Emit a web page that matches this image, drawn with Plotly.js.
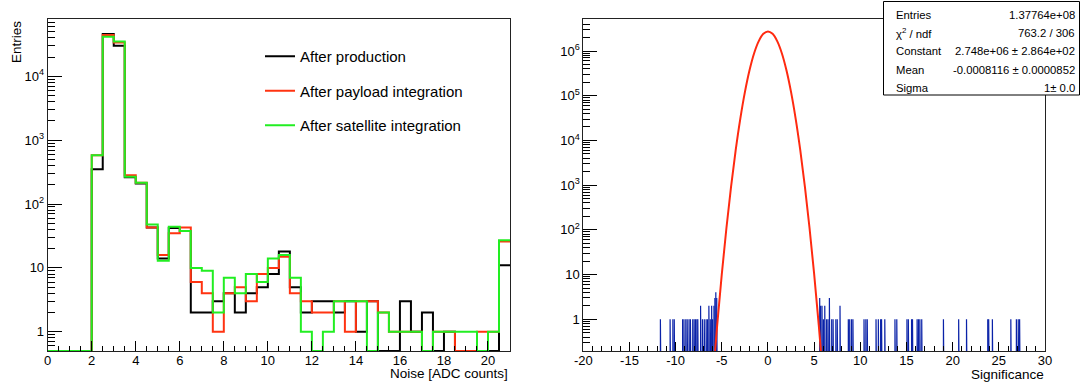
<!DOCTYPE html>
<html>
<head>
<meta charset="utf-8">
<script src="https://cdn.plot.ly/plotly-3.0.1.min.js"></script>
<style>html,body{margin:0;padding:0;background:#fff;}#chart{width:1083px;height:385px;}</style>
</head>
<body>
<div id="chart"></div>
<script>
// ---------- Left panel: noise histograms (bin lower edges, width 0.5) ----------
const noiseBinLow = [0,0.5,1,1.5,2,2.5,3,3.5,4,4.5,5,5.5,6,6.5,7,7.5,8,8.5,9,9.5,10,10.5,11,11.5,12,12.5,13,13.5,14,14.5,15,15.5,16,16.5,17,17.5,18,18.5,19,19.5,20,20.5];
const noiseBinWidth = 0.5;
const afterProduction = [0,0,0,0,350,46000,30000,262,210,43,14,42,38,2,2,3,4,2,4,5,8,18,5,2,3,3,2,3,1,3,0,0,3,1,2,0,1,0,0,0,0,11];
const afterPayload    = [0,0,0,0,580,44300,33900,283,216,43,16,35,43,6,4,1,4,5,3,8,10,15,4,3,2,2,3,1,3,3,2,1,1,1,0,1,1,0,0,1,1,26];
const afterSatellite  = [0,0,0,0,580,41600,35100,268,216,48,13,44,38,10,9,2,7,4,8,6,14,16,7,1,0,1,3,3,3,0,2,1,1,1,0,1,1,1,1,0,1,27];
const seriesNames = ["After production","After payload integration","After satellite integration"];

// ---------- Right panel: significance ----------
// outlier bins (bin centres, width 0.05) and their counts
const sigBinWidth = 0.05;
const sigOutlierX = [-11.625,-10.575,-10.275,-10.125,-9.225,-9.075,-8.875,-8.725,-8.525,-8.375,-8.125,-7.975,-7.825,-7.675,-7.575,-7.275,-7.075,-6.875,-6.675,-6.525,-6.375,-6.225,-6.075,-5.975,-5.825,-5.725,-5.625,-5.525,
  5.625,5.725,5.875,6.025,6.175,6.375,6.525,6.675,6.925,7.075,7.375,7.525,7.825,8.725,8.875,9.075,9.225,10.425,10.625,10.775,11.725,11.975,12.225,12.325,12.675,13.775,13.975,15.075,15.225,15.575,15.675,16.175,16.325,16.475,16.675,19.025,20.675,21.525,23.825,23.925,24.325,26.325,26.925,27.125,27.275];
const sigOutlierN = [1,1,1,1,1,1,1,1,1,1,1,1,1,1,1,2,1,1,1,1,2,1,2,1,2,3,4,3,
  3,2,2,1,2,1,1,3,1,1,1,1,2,1,1,1,1,1,1,1,1,1,1,1,1,1,1,1,1,1,1,1,1,1,1,1,1,1,1,1,1,1,1,1,1];
// Gaussian fit curve values
const fitX = [-6,-5.5,-5,-4.5,-4,-3.5,-3,-2.5,-2,-1.5,-1,-0.5,0,0.5,1,1.5,2,2.5,3,3.5,4,4.5,5,5.5,6];
const fitY = [0.042,0.74,10.3,110,920,6000,30500,120500,372000,895000,1667000,2425000,2748000,2425000,1667000,895000,372000,120500,30500,6000,920,110,10.3,0.74,0.042];
const statLabels = ["Entries","\u03c7<sup>2</sup> / ndf","Constant","Mean","Sigma"];
const statValues = ["1.37764e+08","763.2 / 306","2.748e+06 \u00b1 2.864e+02","-0.0008116 \u00b1 0.0000852","1\u00b1 0.0"];

// ---------- build ----------
const W = 1083, H = 385;
const px = v => v / W, py = v => 1 - v / H;
const FONT = "Liberation Sans, Arial, Helvetica, sans-serif";
const leftYMin = 0.5;

function stepTrace(vals, name, color, group) {
  const x = noiseBinLow.concat([noiseBinLow[noiseBinLow.length-1] + noiseBinWidth]);
  const yv = vals.map(v => v > 0 ? v : leftYMin);
  const y = yv.concat([yv[yv.length-1]]);
  return {type:"scatter", mode:"lines", x:x, y:y, name:name, legendgroup:group,
          line:{shape:"hv", color:color, width:2}, xaxis:"x", yaxis:"y", hoverinfo:"skip"};
}

const floorR = 0.05;
const sx = [], sy = [];
sigOutlierX.forEach((c,i) => {
  const a = c - sigBinWidth/2, b = c + sigBinWidth/2, n = sigOutlierN[i];
  sx.push(a,a,b,b,null); sy.push(floorR,n,n,floorR,null);
});

const traces = [
  stepTrace(afterProduction, seriesNames[0], "#000000", "g1"),
  stepTrace(afterPayload, seriesNames[1], "#ff3311", "g2"),
  stepTrace(afterSatellite, seriesNames[2], "#22ee22", "g3"),
  {type:"scatter", mode:"lines", x:sx, y:sy, xaxis:"x2", yaxis:"y2", showlegend:false,
   line:{color:"#0a22a8", width:1.2}, hoverinfo:"skip"},
  {type:"scatter", mode:"lines", x:fitX, y:fitY, xaxis:"x2", yaxis:"y2", showlegend:false,
   line:{color:"#ff2a10", width:2, shape:"spline"}, hoverinfo:"skip"}
];

function minorLog(lo, hi) {
  const out = [];
  for (let e = lo; e <= hi; e++) for (let d = 2; d <= 9; d++) out.push(d * Math.pow(10, e));
  return out;
}
function decLabels(n) {
  const t = [];
  for (let e = 0; e <= n; e++) t.push(e === 0 ? "1" : e === 1 ? "10" : "10<sup>" + e + "</sup>");
  return t;
}
function decVals(n) { const t = []; for (let e = 0; e <= n; e++) t.push(Math.pow(10, e)); return t; }

const axCommon = {showline:true, mirror:true, linecolor:"#222", linewidth:1, showgrid:false, zeroline:false,
  ticks:"inside", tickcolor:"#000", tickwidth:1, tickfont:{size:13, family:FONT, color:"#000"}};

const yDom = [1 - 351/H, 1 - 19.3/H];
const rightTicks = [-20,-15,-10,-5,0,5,10,15,20,25,30];

const layout = {
  width:W, height:H, margin:{l:0,r:0,t:0,b:0}, paper_bgcolor:"#fff", plot_bgcolor:"#fff",
  font:{family:FONT, color:"#000"},
  showlegend:true,
  legend:{x:px(260), y:py(40), xanchor:"left", yanchor:"top", bgcolor:"rgba(0,0,0,0)", borderwidth:0,
          font:{size:15, family:FONT}, tracegroupgap:12},
  xaxis:Object.assign({}, axCommon, {domain:[px(47.7), px(510)], range:[0,21], anchor:"y",
        tickmode:"array", tickvals:[0,2,4,6,8,10,12,14,16,18,20], ticklen:10, ticklabelstandoff:-3,
        minor:{ticks:"inside", ticklen:5, dtick:0.5, tick0:0, tickcolor:"#000", showgrid:false}}),
  yaxis:Object.assign({}, axCommon, {domain:yDom, type:"log", range:[Math.log10(0.5), 4.893], anchor:"x",
        tickmode:"array", tickvals:decVals(4), ticktext:decLabels(4), ticklen:14,
        minor:{ticks:"inside", ticklen:7, tickmode:"array", tickvals:[0.6,0.7,0.8,0.9].concat(minorLog(0,4)), tickcolor:"#000", showgrid:false}}),
  xaxis2:Object.assign({}, axCommon, {domain:[px(583.3), px(1045)], range:[-20,30], anchor:"y2",
        tickmode:"array", tickvals:rightTicks, ticktext:rightTicks.map(String), ticklen:9, ticklabelstandoff:-3,
        minor:{ticks:"inside", ticklen:5, dtick:1, tick0:0, tickcolor:"#000", showgrid:false}}),
  yaxis2:Object.assign({}, axCommon, {domain:yDom, type:"log", range:[-0.71, 6.71], anchor:"x2",
        tickmode:"array", tickvals:decVals(6), ticktext:decLabels(6), ticklen:14,
        minor:{ticks:"inside", ticklen:7, tickmode:"array", tickvals:[0.2,0.3,0.4,0.5,0.6,0.7,0.8,0.9].concat(minorLog(0,6)), tickcolor:"#000", showgrid:false}}),
  shapes:[
    {type:"rect", xref:"paper", yref:"paper", x0:px(883.5), x1:px(1079.5), y0:py(95), y1:py(1.5),
     line:{color:"#000", width:1}, fillcolor:"#fff", layer:"above"}
  ],
  annotations:[]
};

const ann = layout.annotations;
ann.push({xref:"paper", yref:"paper", x:px(509.5), y:py(373.5), xanchor:"right", yanchor:"middle",
  text:"Noise [ADC counts]", showarrow:false, font:{size:13.5, family:FONT}});
ann.push({xref:"paper", yref:"paper", x:px(1045.5), y:py(374.5), xanchor:"right", yanchor:"middle",
  text:"Significance", showarrow:false, font:{size:13.5, family:FONT}});
ann.push({xref:"paper", yref:"paper", x:px(16.5), y:py(19.5), xanchor:"center", yanchor:"top", textangle:-90,
  text:"Entries", showarrow:false, font:{size:13.5, family:FONT}});
const rowY = [14.8, 33.1, 51.4, 69.7, 88];
statLabels.forEach((t,i) => {
  ann.push({xref:"paper", yref:"paper", x:px(893.5), y:py(rowY[i]), xanchor:"left", yanchor:"middle",
    text:t, showarrow:false, font:{size:11.3, family:FONT}});
  ann.push({xref:"paper", yref:"paper", x:px(1076.5), y:py(rowY[i]), xanchor:"right", yanchor:"middle",
    text:statValues[i], showarrow:false, font:{size:11.3, family:FONT}});
});

Plotly.newPlot("chart", traces, layout, {staticPlot:true, displayModeBar:false});
</script>
</body>
</html>
